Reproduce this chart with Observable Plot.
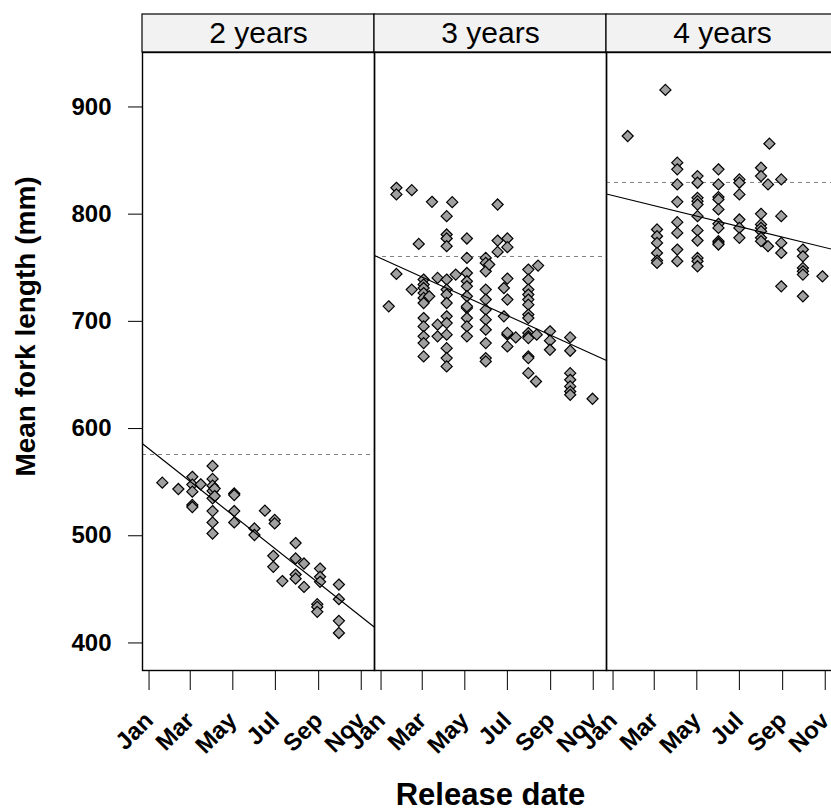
<!DOCTYPE html>
<html><head><meta charset="utf-8">
<script src="https://cdn.jsdelivr.net/npm/d3@7"></script>
<script src="https://cdn.jsdelivr.net/npm/@observablehq/plot@0.6"></script>
<style>
html,body{margin:0;padding:0;background:#fff;overflow:hidden;}
svg{max-width:none !important;}
</style></head><body><div id="chart"></div>
<script>
// Panels (age at release)
const panels = ["2 years", "3 years", "4 years"];

// Release day-of-year and mean fork length (mm), per panel
const days2 = [19, 42, 62, 62, 62, 62, 62, 74, 91, 91, 91, 91, 91, 91, 91, 91, 94, 94, 122, 122, 122, 122, 151, 151, 166, 180, 180, 178, 178, 191, 210, 210, 210, 210, 222, 222, 245, 245, 245, 241, 241, 241, 272, 272, 272, 272];
const len2 = [549.5, 543.6, 555, 547.7, 541.1, 528.7, 526.8, 548, 565.1, 553, 546.7, 541.8, 534.9, 523, 512.4, 502.1, 544, 537, 539.5, 538, 523, 512.4, 506.8, 500.7, 523.4, 514.7, 511.5, 481.3, 471, 457.7, 493.2, 478.8, 463.8, 460, 474.1, 452.3, 469.4, 461.7, 457, 436.2, 433.6, 429, 454.5, 440.8, 420.6, 409.3];

const days3 = [11, 22, 22, 22, 44, 44, 54,
  61, 61, 61, 61, 61, 61, 61, 61, 61, 61, 61,
  69, 73, 81, 81, 81,
  94, 94, 94, 94, 94, 94, 94, 94, 94, 94, 94, 94, 94, 94,
  102, 107,
  123, 123, 123, 123, 123, 123, 123, 123, 123, 123, 123,
  150, 150, 150, 150, 150, 150, 150, 150, 150, 150, 150,
  155, 167, 167, 167,
  181, 181, 181, 181, 181, 181, 181, 176, 176, 193,
  211, 211, 211, 211, 211, 211, 211, 211, 211, 211, 211, 211, 211, 211,
  222, 225, 223, 242, 242, 242,
  271, 271, 271, 271, 271, 271, 271, 303];
const len3 = [714, 824.6, 818.4, 744.2, 822.4, 729.6, 772.2,
  739, 734.3, 731.1, 726.4, 721.8, 717.1, 703.1, 695.3, 686, 679.7, 667.3,
  723.4, 811.5, 740.5, 696.9, 686,
  798.1, 781, 777.3, 770.1, 739, 729.6, 725, 717.1, 704.7, 698.4, 687.6, 675, 665.7, 658,
  811.2, 743.6,
  777.3, 759.2, 745.1, 737.4, 732.7, 723.4, 712.4, 703.1, 695.3, 686, 714,
  759.2, 754.5, 746.7, 729.6, 720.3, 710.9, 701.6, 692.2, 679.7, 665.7, 662.6,
  753, 809, 775.4, 764.8,
  777.3, 769.2, 739.9, 720.3, 687.6, 676.6, 689.2, 731.1, 704.7, 685,
  748.3, 739, 729.6, 725, 720.3, 715.6, 706.3, 703.1, 689.1, 686, 667.3, 665.7, 651.7, 684.4,
  643.9, 752, 687.6, 690.7, 682, 673.5,
  685, 672.6, 651.7, 645.5, 639.3, 634.6, 631.5, 627.8];

const days4 = [21, 75,
  63, 63, 63, 63, 63, 63,
  92, 92, 92, 92, 92, 92, 92, 92,
  121, 121, 121, 121, 121, 121, 121, 121, 121, 121, 121,
  151, 151, 151, 151, 151, 151, 151, 151, 151, 151,
  181, 181, 181, 181, 181, 181,
  212, 212, 212, 212, 212, 212, 212, 212,
  222, 224, 222,
  241, 241, 241, 241, 241,
  272, 272, 272, 272, 272, 272, 300];
const len4 = [872.9, 915.9,
  785.7, 779.4, 773.2, 763.8, 756.7, 754.5,
  848, 841.8, 827.7, 811.5, 792.5, 782.5, 767, 756.1,
  835.5, 829.3, 815.2, 812.1, 809, 798.1, 784.8, 775.4, 759.2, 756.1, 751.4,
  841.8, 827.7, 815.9, 813.7, 804.4, 791, 787.2, 774.8, 773.2, 771.7,
  832.4, 829.3, 818.4, 795, 787.2, 777.9,
  843.3, 835.5, 800.3, 790.4, 787.2, 784.1, 777.9, 774.8,
  827.7, 865.7, 770.1,
  832.4, 798.1, 773.2, 763.8, 732.7,
  767, 760.7, 749.8, 746.7, 743.6, 723.4, 742];

// Panel mean (dashed) and linear fit (length at Jan 1, change per day)
const meanLength = [575.8, 760.5, 829.6];
const fitIntercept = [581, 758.7, 817.3];
const fitSlope = [-0.5148, -0.2948, -0.1595];

// Axes
const monthLabels = ["Jan", "Mar", "May", "Jul", "Sep", "Nov"];
const yTicks = [400, 500, 600, 700, 800, 900];
const xDomainDays = [-9.4, 323];
const yDomain = [374.3, 950.8];

const toDate = d => new Date(Date.UTC(2001, 0, 1) + d * 864e5);

const points = [];
[[days2, len2], [days3, len3], [days4, len4]].forEach(([ds, ls], p) => {
  ds.forEach((d, i) => points.push({panel: panels[p], date: toDate(d), length: ls[i]}));
});
const means = panels.map((p, i) => ({panel: p, mean: meanLength[i]}));
const fits = [];
panels.forEach((p, i) => xDomainDays.forEach(d => fits.push({panel: p, date: toDate(d), value: fitIntercept[i] + fitSlope[i] * d})));

const tickDates = monthLabels.map((m, i) => new Date(Date.UTC(2001, 2 * i, 1)));
const W = 840, H = 810, mL = 141, mR = 1.2, mT = 52, mB = 140;
const stripPx = 38;
const unitsPerPx = (yDomain[1] - yDomain[0]) / (H - mT - mB);
const stripTop = yDomain[1] + stripPx * unitsPerPx;
const xStart = toDate(xDomainDays[0]), xEnd = toDate(xDomainDays[1]);
const xMid = toDate((xDomainDays[0] + xDomainDays[1]) / 2);

const chart = Plot.plot({
  width: W, height: H,
  marginLeft: mL, marginRight: mR, marginTop: mT, marginBottom: mB,
  style: {fontFamily: "'Liberation Sans', Arial, sans-serif", fontSize: "24px", fontWeight: "bold", color: "black", background: "white", maxWidth: "none"},
  fx: {domain: panels, padding: 0, axis: null, label: null},
  x: {type: "utc", domain: [xStart, xEnd], ticks: tickDates, tickFormat: d => monthLabels[d.getUTCMonth() / 2], tickRotate: -45, tickSize: 20, tickPadding: 26, label: null},
  y: {domain: yDomain, ticks: yTicks, tickSize: 14, tickPadding: 17, label: null},
  marks: [
    Plot.rect(panels, {fx: d => d, x1: () => xStart, x2: () => xEnd, y1: () => yDomain[1], y2: () => stripTop, fill: "#f2f2f2", stroke: "black", strokeWidth: 1.2}),
    Plot.text(panels, {fx: d => d, x: () => xMid, y: () => (yDomain[1] + stripTop) / 2, text: d => d, fontSize: 30, fontWeight: "normal", fill: "black"}),
    Plot.ruleY(means, {fx: "panel", y: "mean", stroke: "#808080", strokeDasharray: "4,4", strokeWidth: 1}),
    Plot.dot(points, {fx: "panel", x: "date", y: "length", symbol: "diamond2", r: 5, fill: "#a0a0a0", stroke: "black", strokeWidth: 1.2}),
    Plot.line(fits, {fx: "panel", x: "date", y: "value", z: "panel", stroke: "black", strokeWidth: 1.2}),
    Plot.frame({stroke: "black", strokeWidth: 1.4}),
    Plot.text(["Mean fork length (mm)"], {fx: () => panels[0], frameAnchor: "left", textAnchor: "middle", rotate: -90, dx: -116, dy: -35, fontSize: 28, fill: "black"}),
    Plot.text(["Release date"], {fx: () => panels[1], frameAnchor: "bottom", textAnchor: "middle", dy: 134, fontSize: 31, fill: "black"})
  ]
});
document.getElementById("chart").appendChild(chart);
</script></body></html>
